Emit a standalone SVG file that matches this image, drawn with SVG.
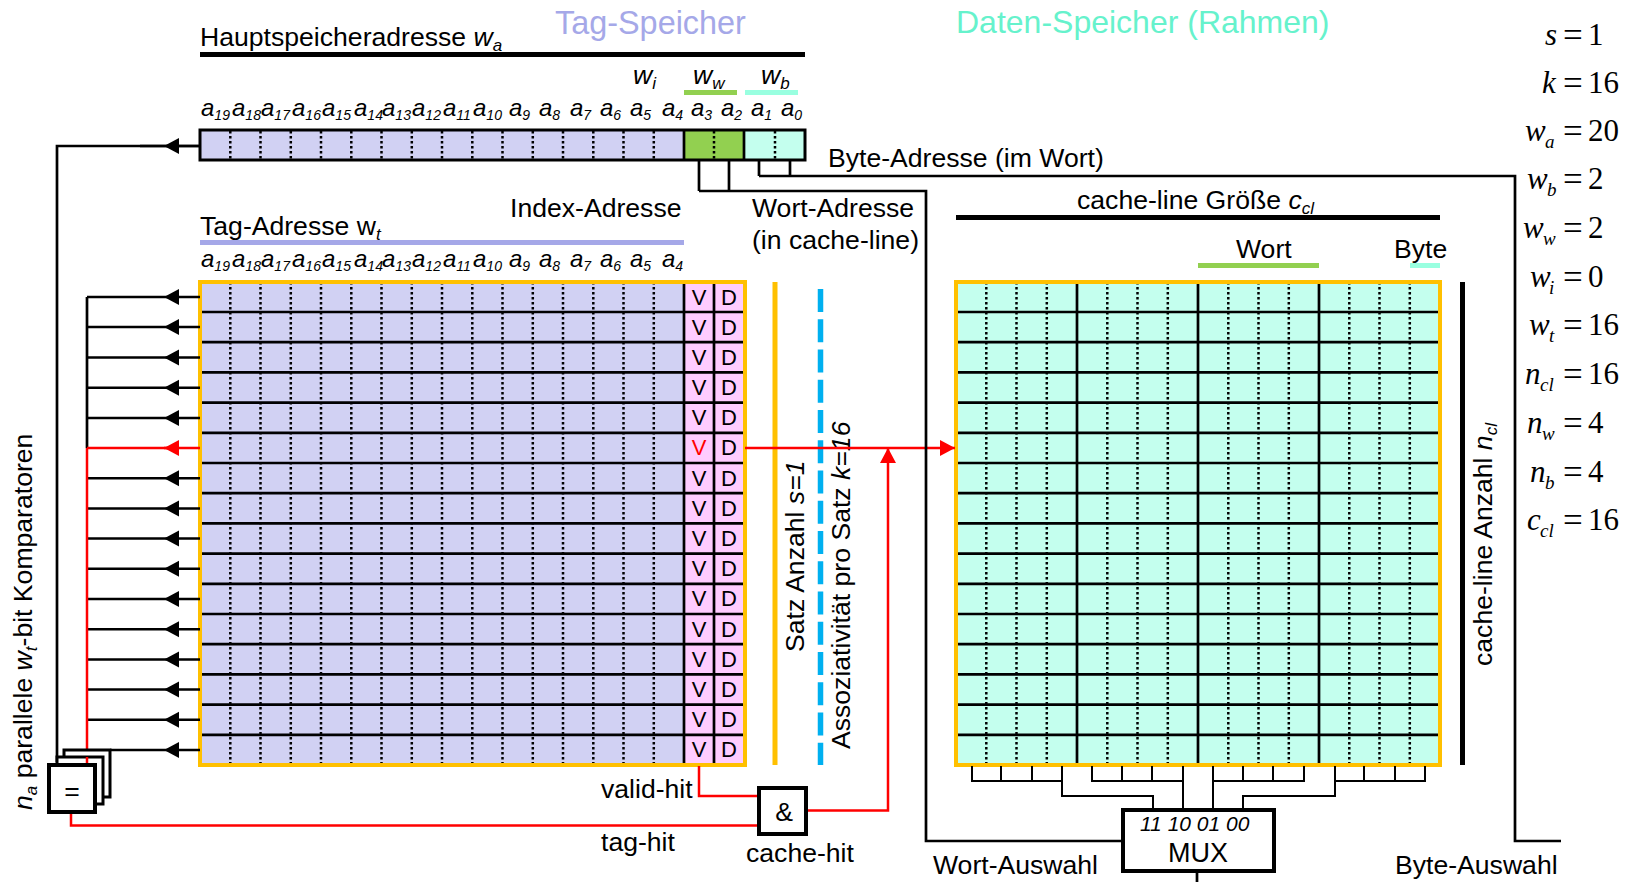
<svg xmlns="http://www.w3.org/2000/svg" width="1636" height="882" viewBox="0 0 1636 882">
<style>
text{font-family:"Liberation Sans",Arial,sans-serif;fill:#000}
.t{font-size:26.6px}
.i{font-style:italic}
.a{font-size:24px;font-style:italic}
.s{font-size:14px;font-style:italic}
.sb{font-size:17px;font-style:italic}
.c{font-size:22px;text-anchor:middle}
.e{font-family:"Liberation Serif","Times New Roman",serif;font-size:31px}
.q{font-family:"Liberation Serif","Times New Roman",serif;font-size:35px}
.es{font-family:"Liberation Serif","Times New Roman",serif;font-size:19px;font-style:italic}
.ln{fill:none;stroke:#000;stroke-width:2.7}
.thin{fill:none;stroke:#000;stroke-width:2}
.dot{fill:none;stroke:#000;stroke-width:2.5;stroke-dasharray:2.5 2.5}
.red{fill:none;stroke:#f00;stroke-width:2.5}
.arr{fill:none;stroke:#000;stroke-width:2.5;marker-mid:url(#ak)}
</style>
<defs>
<marker id="ak" markerUnits="userSpaceOnUse" markerWidth="16" markerHeight="18" refX="15" refY="9" orient="auto"><path d="M0 1L15 9L0 17Z" fill="#000"/></marker>
<marker id="ar" markerUnits="userSpaceOnUse" markerWidth="16" markerHeight="18" refX="15" refY="9" orient="auto"><path d="M0 1L15 9L0 17Z" fill="#f00"/></marker>
</defs>
<g id="headings">
<text x="555" y="34" style="font-size:32.400px;fill:#a5a8e8">Tag-Speicher</text>
<text x="956" y="33" style="font-size:32px;fill:#66f2cc">Daten-Speicher (Rahmen)</text>
<text x="200" y="46" class="t">Hauptspeicheradresse <tspan class="i">w</tspan><tspan class="sb" dy="5">a</tspan></text>
<rect x="200" y="52" width="605" height="5"/>
<text x="633" y="84" class="t i">w<tspan class="sb" dy="5">i</tspan></text>
<text x="693" y="84" class="t i">w<tspan class="sb" dy="5">w</tspan></text>
<text x="761" y="84" class="t i">w<tspan class="sb" dy="5">b</tspan></text>
<rect x="684" y="90" width="53" height="5" fill="#92d050"/>
<rect x="745" y="90" width="53" height="5" fill="#99ffe0"/>
<text x="828" y="167" class="t">Byte-Adresse (im Wort)</text>
<text x="510" y="217" class="t">Index-Adresse</text>
<text x="752" y="217" class="t">Wort-Adresse</text>
<text x="752" y="249" class="t">(in cache-line)</text>
<text x="200" y="235" class="t">Tag-Adresse w<tspan class="sb" dy="5">t</tspan></text>
<rect x="200" y="240" width="484" height="5" fill="#a5a8e8"/>
<text x="1077" y="209" class="t">cache-line Größe <tspan class="i">c</tspan><tspan class="sb" dy="5">cl</tspan></text>
<rect x="956" y="215" width="484" height="5"/>
<text x="1236" y="258" class="t">Wort</text>
<text x="1394" y="258" class="t">Byte</text>
<rect x="1198" y="263" width="121" height="5" fill="#92d050"/>
<rect x="1410" y="263" width="30" height="5" fill="#99ffe0"/>
<text x="601" y="798" class="t">valid-hit</text>
<text x="601" y="851" class="t">tag-hit</text>
<text x="746" y="862" class="t">cache-hit</text>
<text x="933" y="874" class="t">Wort-Auswahl</text>
<text x="1395" y="874" class="t">Byte-Auswahl</text>
<text transform="translate(32 810) rotate(-90)" class="t"><tspan class="i">n</tspan><tspan class="sb" dy="5">a</tspan><tspan dy="-5"> parallele </tspan><tspan class="i">w</tspan><tspan class="sb" dy="5">t</tspan><tspan dy="-5">-bit Komparatoren</tspan></text>
<text transform="translate(804 652) rotate(-90)" class="t">Satz Anzahl <tspan class="i">s=1</tspan></text>
<text transform="translate(850 749) rotate(-90)" class="t">Assoziativität pro Satz <tspan class="i">k=16</tspan></text>
<text transform="translate(1492 666) rotate(-90)" class="t">cache-line Anzahl <tspan class="i">n</tspan><tspan class="sb" dy="5">cl</tspan></text>
</g>
<g id="bit-labels-address">
<text x="201" y="116" class="a">a<tspan class="s" dy="4">19</tspan></text>
<text x="232" y="116" class="a">a<tspan class="s" dy="4">18</tspan></text>
<text x="261" y="116" class="a">a<tspan class="s" dy="4">17</tspan></text>
<text x="292" y="116" class="a">a<tspan class="s" dy="4">16</tspan></text>
<text x="322" y="116" class="a">a<tspan class="s" dy="4">15</tspan></text>
<text x="354" y="116" class="a">a<tspan class="s" dy="4">14</tspan></text>
<text x="382" y="116" class="a">a<tspan class="s" dy="4">13</tspan></text>
<text x="412" y="116" class="a">a<tspan class="s" dy="4">12</tspan></text>
<text x="443" y="116" class="a">a<tspan class="s" dy="4">11</tspan></text>
<text x="473" y="116" class="a">a<tspan class="s" dy="4">10</tspan></text>
<text x="509" y="116" class="a">a<tspan class="s" dy="4">9</tspan></text>
<text x="539" y="116" class="a">a<tspan class="s" dy="4">8</tspan></text>
<text x="570" y="116" class="a">a<tspan class="s" dy="4">7</tspan></text>
<text x="600" y="116" class="a">a<tspan class="s" dy="4">6</tspan></text>
<text x="630" y="116" class="a">a<tspan class="s" dy="4">5</tspan></text>
<text x="662" y="116" class="a">a<tspan class="s" dy="4">4</tspan></text>
<text x="691" y="116" class="a">a<tspan class="s" dy="4">3</tspan></text>
<text x="721" y="116" class="a">a<tspan class="s" dy="4">2</tspan></text>
<text x="751" y="116" class="a">a<tspan class="s" dy="4">1</tspan></text>
<text x="781" y="116" class="a">a<tspan class="s" dy="4">0</tspan></text>
</g>
<g id="bit-labels-tag">
<text x="201" y="267" class="a">a<tspan class="s" dy="4">19</tspan></text>
<text x="232" y="267" class="a">a<tspan class="s" dy="4">18</tspan></text>
<text x="261" y="267" class="a">a<tspan class="s" dy="4">17</tspan></text>
<text x="292" y="267" class="a">a<tspan class="s" dy="4">16</tspan></text>
<text x="322" y="267" class="a">a<tspan class="s" dy="4">15</tspan></text>
<text x="354" y="267" class="a">a<tspan class="s" dy="4">14</tspan></text>
<text x="382" y="267" class="a">a<tspan class="s" dy="4">13</tspan></text>
<text x="412" y="267" class="a">a<tspan class="s" dy="4">12</tspan></text>
<text x="443" y="267" class="a">a<tspan class="s" dy="4">11</tspan></text>
<text x="473" y="267" class="a">a<tspan class="s" dy="4">10</tspan></text>
<text x="509" y="267" class="a">a<tspan class="s" dy="4">9</tspan></text>
<text x="539" y="267" class="a">a<tspan class="s" dy="4">8</tspan></text>
<text x="570" y="267" class="a">a<tspan class="s" dy="4">7</tspan></text>
<text x="600" y="267" class="a">a<tspan class="s" dy="4">6</tspan></text>
<text x="630" y="267" class="a">a<tspan class="s" dy="4">5</tspan></text>
<text x="662" y="267" class="a">a<tspan class="s" dy="4">4</tspan></text>
</g>
<g id="address-register">
<rect x="200" y="130" width="484" height="30" fill="#d1d1f3"/>
<rect x="684" y="130" width="60" height="30" fill="#92d050"/>
<rect x="744" y="130" width="61" height="30" fill="#c4ffee"/>
<path class="dot" d="M230.3 131V159M260.5 131V159M290.8 131V159M321 131V159M351.3 131V159M381.5 131V159M411.8 131V159M442 131V159M472.3 131V159M502.5 131V159M532.8 131V159M563 131V159M593.3 131V159M623.5 131V159M653.8 131V159M714 131V159M775 131V159"/>
<path class="ln" d="M684 130V160M744 130V160"/>
<rect x="200" y="130" width="605" height="30" fill="none" stroke="#000" stroke-width="3"/>
</g>
<g id="tag-memory">
<rect x="200" y="282" width="484" height="483" fill="#d1d1f3"/>
<rect x="684" y="282" width="61" height="483" fill="#ffccff"/>
<path class="dot" d="M230.3 282V764M260.5 282V764M290.8 282V764M321 282V764M351.3 282V764M381.5 282V764M411.8 282V764M442 282V764M472.3 282V764M502.5 282V764M532.8 282V764M563 282V764M593.3 282V764M623.5 282V764M653.8 282V764"/>
<path class="ln" d="M200 312H743M200 342.200H743M200 372.400H743M200 402.600H743M200 432.800H743M200 463H743M200 493.200H743M200 523.400H743M200 553.600H743M200 583.800H743M200 614H743M200 644.200H743M200 674.400H743M200 704.600H743M200 734.800H743M684 282V765M714 282V765"/>
<rect x="200" y="282" width="545" height="483" fill="none" stroke="#ffc000" stroke-width="4"/>
<text x="699" y="305" class="c">V</text><text x="729" y="305" class="c">D</text>
<text x="699" y="335" class="c">V</text><text x="729" y="335" class="c">D</text>
<text x="699" y="365" class="c">V</text><text x="729" y="365" class="c">D</text>
<text x="699" y="395" class="c">V</text><text x="729" y="395" class="c">D</text>
<text x="699" y="425" class="c">V</text><text x="729" y="425" class="c">D</text>
<text x="699" y="455" class="c" style="fill:#f00">V</text><text x="729" y="455" class="c">D</text>
<text x="699" y="486" class="c">V</text><text x="729" y="486" class="c">D</text>
<text x="699" y="516" class="c">V</text><text x="729" y="516" class="c">D</text>
<text x="699" y="546" class="c">V</text><text x="729" y="546" class="c">D</text>
<text x="699" y="576" class="c">V</text><text x="729" y="576" class="c">D</text>
<text x="699" y="606" class="c">V</text><text x="729" y="606" class="c">D</text>
<text x="699" y="637" class="c">V</text><text x="729" y="637" class="c">D</text>
<text x="699" y="667" class="c">V</text><text x="729" y="667" class="c">D</text>
<text x="699" y="697" class="c">V</text><text x="729" y="697" class="c">D</text>
<text x="699" y="727" class="c">V</text><text x="729" y="727" class="c">D</text>
<text x="699" y="757" class="c">V</text><text x="729" y="757" class="c">D</text>
</g>
<g id="set-associativity-markers">
<rect x="772.5" y="282" width="5" height="483" fill="#ffc000"/>
<path d="M820.500 289V765" fill="none" stroke="#00b0f0" stroke-width="5.500" stroke-dasharray="23 7.250"/>
<rect x="1460" y="282" width="5" height="483"/>
</g>
<g id="data-memory">
<rect x="956" y="282" width="484" height="483" fill="#c4ffee"/>
<path class="dot" d="M986.3 282V764M1016.5 282V764M1046.8 282V764M1107.3 282V764M1137.5 282V764M1167.8 282V764M1228.3 282V764M1258.5 282V764M1288.8 282V764M1349.3 282V764M1379.5 282V764M1409.8 282V764"/>
<path class="ln" d="M956 312H1438M956 342.200H1438M956 372.400H1438M956 402.600H1438M956 432.800H1438M956 463H1438M956 493.200H1438M956 523.400H1438M956 553.600H1438M956 583.800H1438M956 614H1438M956 644.200H1438M956 674.400H1438M956 704.600H1438M956 734.800H1438M1077 282V765M1198 282V765M1319 282V765"/>
<rect x="956" y="282" width="484" height="483" fill="none" stroke="#ffc000" stroke-width="4"/>
</g>
<g id="connectors">
<path class="ln" d="M200 146H57V762"/>
<path class="arr" d="M200 146L164 146L140 146"/>
<path class="arr" d="M200 297L164 297L87 297"/>
<path class="arr" d="M200 327L164 327L87 327"/>
<path class="arr" d="M200 357.500L164 357.500L87 357.500"/>
<path class="arr" d="M200 387.700L164 387.700L87 387.700"/>
<path class="arr" d="M200 417.900L164 417.900L87 417.900"/>
<path class="arr" d="M200 478.200L164 478.200L87 478.200"/>
<path class="arr" d="M200 508.400L164 508.400L87 508.400"/>
<path class="arr" d="M200 538.600L164 538.600L87 538.600"/>
<path class="arr" d="M200 568.800L164 568.800L87 568.800"/>
<path class="arr" d="M200 599L164 599L87 599"/>
<path class="arr" d="M200 629.200L164 629.200L87 629.200"/>
<path class="arr" d="M200 659.400L164 659.400L87 659.400"/>
<path class="arr" d="M200 689.500L164 689.500L87 689.500"/>
<path class="arr" d="M200 719.700L164 719.700L87 719.700"/>
<path class="arr" d="M200 749.900L164 749.900L110 749.900"/>
<path class="ln" d="M87 297V448"/>
<path class="red" d="M87 448V765"/>
<path class="red" d="M200 448H164" marker-end="url(#ar)"/>
<path class="red" d="M178 448H87"/>
<path class="red" d="M71 812V825.500H759"/>
<path class="red" d="M699 766V796H759"/>
<path class="red" d="M806 810.500H888V448" marker-end="url(#ar)"/>
<path class="red" d="M745 448H955" marker-end="url(#ar)"/>
<path class="ln" d="M699 160V191M729 160V191M699 191H926V841H1122"/>
<path class="ln" d="M759 160V176M790 160V176M759 176H1515V841H1561"/>
<path class="thin" d="M972 766V781H1062M1001 766V781M1032 766V781M1062 766V796H1153V810"/>
<path class="thin" d="M1092 766V781H1182M1122 766V781M1152 766V781M1183 766V810"/>
<path class="thin" d="M1213 766V810M1213 781H1304V766M1243 766V781M1273 766V781"/>
<path class="thin" d="M1335 766V796H1243V810M1335 781H1425V766M1364 766V781M1395 766V781"/>
<path class="ln" d="M1197 871V882"/>
</g>
<g id="comparators">
<rect x="64" y="750" width="46" height="47" fill="#fff" stroke="#000" stroke-width="3"/>
<rect x="57" y="757" width="46" height="47" fill="#fff" stroke="#000" stroke-width="3"/>
<path class="red" d="M87 757V765"/>
<rect x="49" y="765" width="46" height="47" fill="#fff" stroke="#000" stroke-width="4"/>
<text x="72" y="800" class="t" text-anchor="middle">=</text>
</g>
<g id="and-gate">
<rect x="759" y="788" width="47" height="46" fill="#fff" stroke="#000" stroke-width="4"/>
<text x="784" y="821" class="t" text-anchor="middle">&amp;</text>
</g>
<g id="mux">
<rect x="1123" y="810" width="151" height="61" fill="#fff" stroke="#000" stroke-width="4"/>
<text x="1140" y="831" style="font-size:21px;font-style:italic">11 10 01 00</text>
<text x="1198" y="862" text-anchor="middle" style="font-size:27px">MUX</text>
</g>
<g id="parameters">
<text x="1545" y="45" class="e" font-style="italic">s</text><text x="1563" y="47" class="q">=</text><text x="1588" y="45" class="e">1</text>
<text x="1542" y="93" class="e" font-style="italic">k</text><text x="1563" y="95" class="q">=</text><text x="1588" y="93" class="e">16</text>
<text x="1525" y="141" class="e" font-style="italic">w</text><text x="1545" y="148" class="es">a</text><text x="1563" y="143" class="q">=</text><text x="1588" y="141" class="e">20</text>
<text x="1527" y="189" class="e" font-style="italic">w</text><text x="1547" y="196" class="es">b</text><text x="1563" y="191" class="q">=</text><text x="1588" y="189" class="e">2</text>
<text x="1523" y="238" class="e" font-style="italic">w</text><text x="1543" y="245" class="es">w</text><text x="1563" y="240" class="q">=</text><text x="1588" y="238" class="e">2</text>
<text x="1530" y="287" class="e" font-style="italic">w</text><text x="1549" y="294" class="es">i</text><text x="1563" y="289" class="q">=</text><text x="1588" y="287" class="e">0</text>
<text x="1529" y="335" class="e" font-style="italic">w</text><text x="1549" y="342" class="es">t</text><text x="1563" y="337" class="q">=</text><text x="1588" y="335" class="e">16</text>
<text x="1525" y="384" class="e" font-style="italic">n</text><text x="1540" y="391" class="es">cl</text><text x="1563" y="386" class="q">=</text><text x="1588" y="384" class="e">16</text>
<text x="1527" y="433" class="e" font-style="italic">n</text><text x="1542" y="440" class="es">w</text><text x="1563" y="435" class="q">=</text><text x="1588" y="433" class="e">4</text>
<text x="1530" y="482" class="e" font-style="italic">n</text><text x="1545" y="489" class="es">b</text><text x="1563" y="484" class="q">=</text><text x="1588" y="482" class="e">4</text>
<text x="1527" y="530" class="e" font-style="italic">c</text><text x="1540" y="537" class="es">cl</text><text x="1563" y="532" class="q">=</text><text x="1588" y="530" class="e">16</text>
</g>
</svg>
